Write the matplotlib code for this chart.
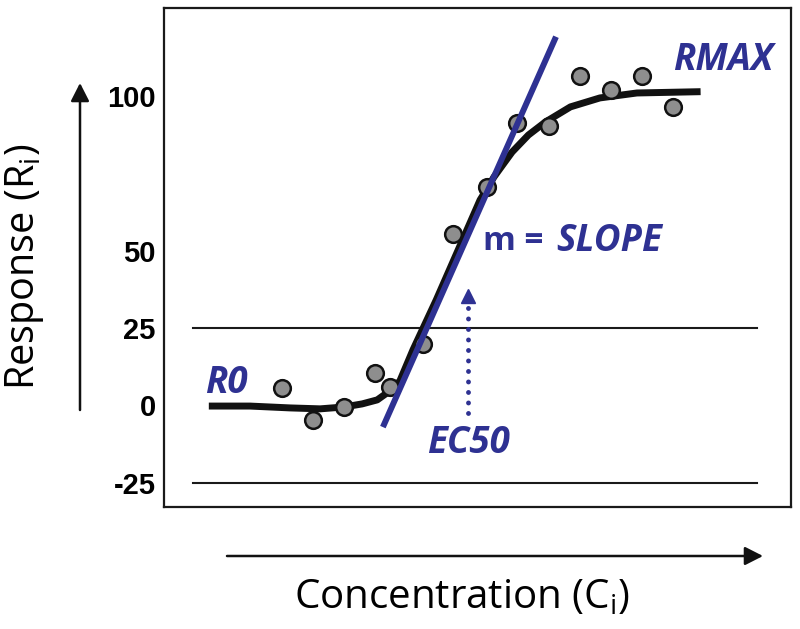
import numpy as np
import matplotlib.pyplot as plt

plt.rcParams['mathtext.fontset'] = 'custom'
plt.rcParams['mathtext.rm'] = 'Open Sans'

# -------------------
# Data (arbitrary log-concentration units)
# -------------------
conc_obs = [18.8, 23.8, 28.7, 33.7, 36.0, 41.3, 46.1, 51.5, 56.3, 61.4, 66.3, 71.3, 76.2, 81.2]
resp_obs = [5.7, -4.7, -0.5, 10.5, 6.0, 19.9, 55.5, 70.7, 91.4, 90.5, 106.6, 102.1, 106.6, 96.6]

conc_fit = [7.7, 13.7, 20.1, 24.9, 28.7, 31.6, 34.0, 36.0, 37.6, 39.7, 43.4, 46.9,
            50.4, 51.5, 52.6, 54.1, 55.5, 58.1, 60.8, 64.8, 69.5, 75.4, 85.0]
resp_fit = [-0.2, -0.2, -0.8, -1.1, -0.5, 0.5, 1.8, 4.7, 7.9, 18.0, 34.1, 50.3,
            66.5, 70.1, 73.9, 78.1, 82.0, 87.5, 91.7, 96.6, 99.5, 101.1, 101.5]

slope_x = [34.9, 62.5]
slope_y = [-7.0, 119.3]

ec50_x = 48.4
ec50_y = [-2.4, 33.2]

ref_levels = [25, -25]
ref_span = (4.6, 94.6)

yticks = [-25, 0, 25, 50, 100]

blue = '#2e3192'

# -------------------
# Plot
# -------------------
fig = plt.figure(figsize=(8, 6.29), dpi=100)
ax = fig.add_axes([0.205, 0.194, 0.784, 0.7933])

for lev in ref_levels:
    ax.plot(ref_span, [lev, lev], color='#1a1a1a', lw=1.5, zorder=1)

ax.plot(conc_fit, resp_fit, color='#111111', lw=5, solid_joinstyle='round', zorder=2)
ax.plot(conc_obs, resp_obs, 'o', ms=12, mfc='#8e8e8e', mec='#111111', mew=1.8, zorder=3)
ax.plot(slope_x, slope_y, color=blue, lw=4.3, solid_capstyle='butt', zorder=4)

# EC50 dotted arrow
ax.plot([ec50_x, ec50_x], ec50_y, color=blue, lw=3.5, linestyle=(0, (0.01, 2.15)),
        dash_capstyle='round', zorder=4)
ax.plot([ec50_x], [35.4], marker='^', ms=10.5, color=blue, zorder=4)

tfont = dict(family='Open Sans', weight='bold', style='italic', color=blue, fontsize=26.5)
ax.text(10.0, 7.3, 'R0', ha='center', va='center', **tfont)
ax.text(89.2, 111.8, 'RMAX', ha='center', va='center', **tfont)
ax.text(48.6, -12.1, 'EC50', ha='center', va='center', **tfont)
ax.text(50.9, 53.2, 'm =', ha='left', va='center', family='Open Sans', weight='bold',
        color=blue, fontsize=24)
ax.text(62.6, 53.2, 'SLOPE', ha='left', va='center', **tfont)

ax.set_xlim(0, 100)
ax.set_ylim(-32.85, 128.6)
ax.set_xticks([])
ax.set_yticks(yticks)
ax.set_yticklabels([str(v) for v in yticks], family='Liberation Sans', weight='bold', fontsize=21)
ax.tick_params(axis='y', length=0, pad=6)
for sp in ax.spines.values():
    sp.set_linewidth(1.6)
    sp.set_color('#1a1a1a')

# axis arrows outside the frame
arrow = dict(arrowstyle='-|>,head_length=0.55,head_width=0.28', color='#111111', lw=1.8,
             mutation_scale=20, shrinkA=0, shrinkB=0)
ax.annotate('', xy=(0.1, 546 / 629), xytext=(0.1, 219 / 629),
            xycoords='figure fraction', textcoords='figure fraction', arrowprops=arrow)
ax.annotate('', xy=(763 / 800, 73 / 629), xytext=(227 / 800, 73 / 629),
            xycoords='figure fraction', textcoords='figure fraction', arrowprops=arrow)

fig.text(0.031, 0.5755, r'Response (R$_\mathrm{i}$)', rotation=90, ha='center', va='center',
         family='Open Sans', fontsize=28.5)
fig.text(0.5775, 0.0493, r'Concentration (C$_\mathrm{i}$)', ha='center', va='center',
         family='Open Sans', fontsize=29)

fig.savefig('out.png', dpi=100)
